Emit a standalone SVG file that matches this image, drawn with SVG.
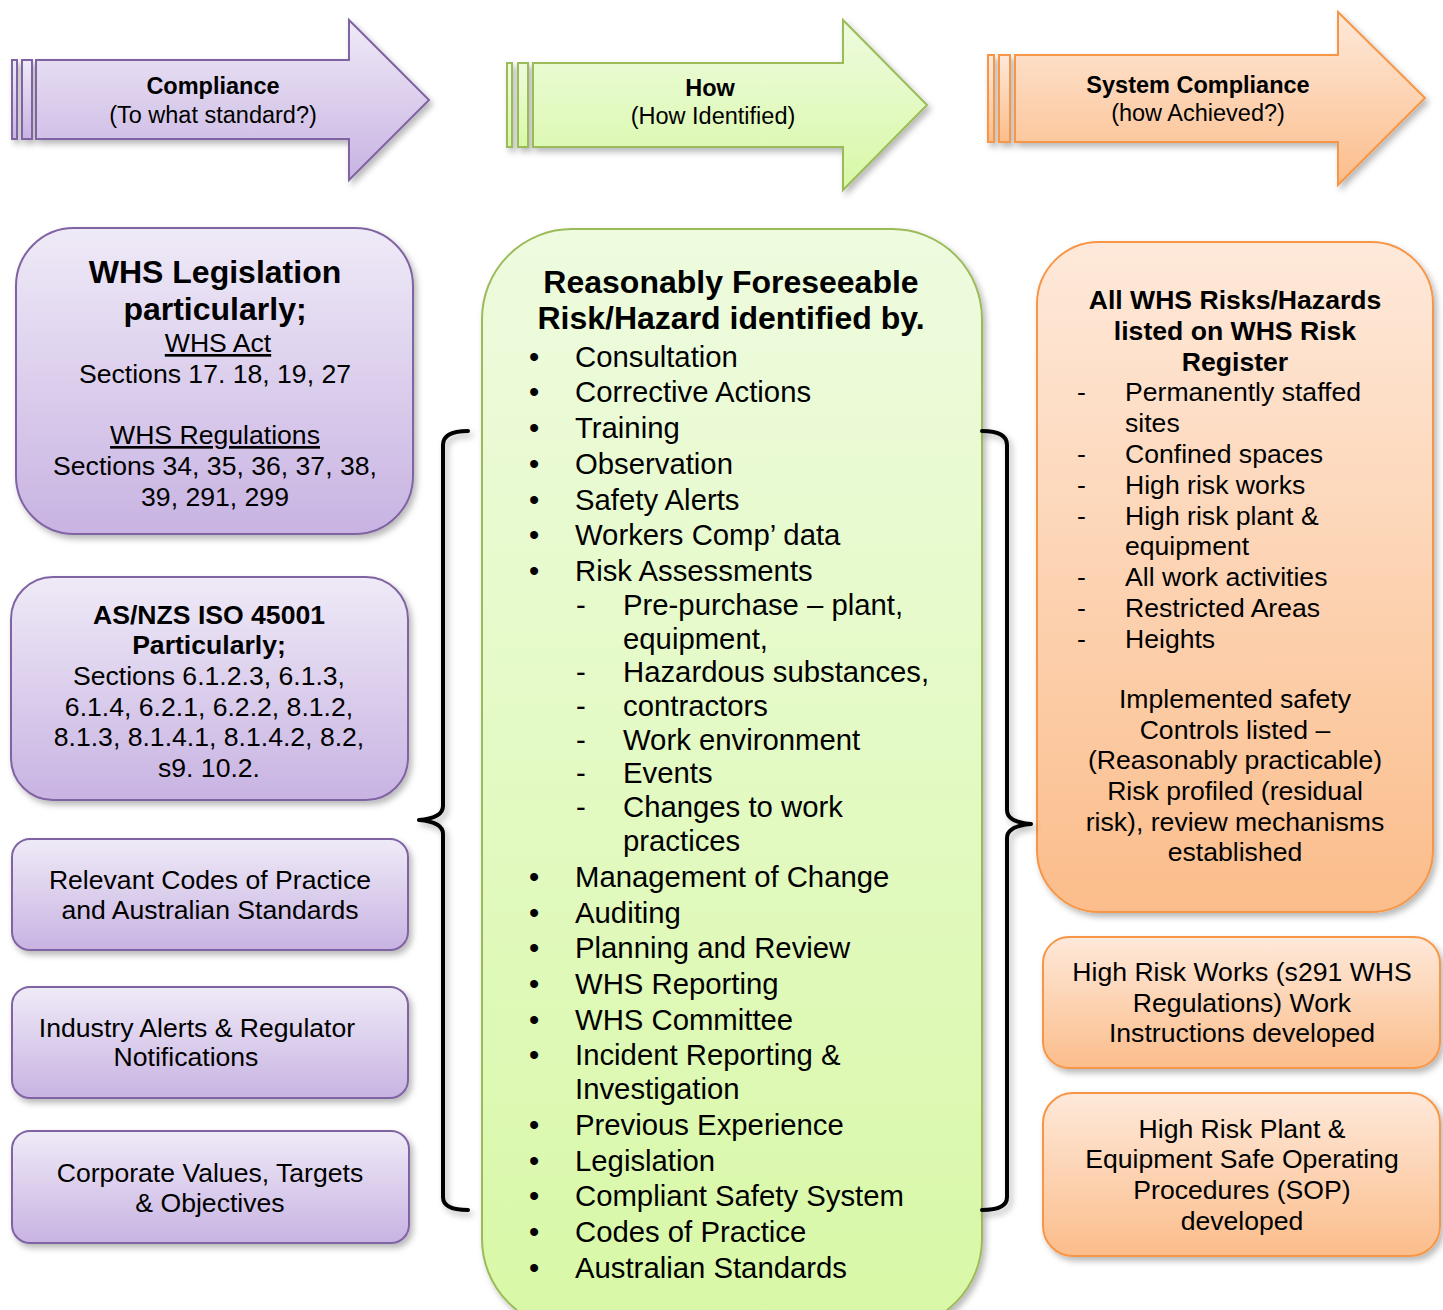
<svg xmlns="http://www.w3.org/2000/svg" width="1443" height="1310" viewBox="0 0 1443 1310">
<defs>
<linearGradient id="gP" x1="0" y1="0" x2="0" y2="1"><stop offset="0" stop-color="#efeaf7"/><stop offset="1" stop-color="#c8b3e2"/></linearGradient>
<linearGradient id="gG" x1="0" y1="0" x2="0" y2="1"><stop offset="0" stop-color="#eefbdf"/><stop offset="1" stop-color="#d8f8a6"/></linearGradient>
<linearGradient id="gO" x1="0" y1="0" x2="0" y2="1"><stop offset="0" stop-color="#fee9da"/><stop offset="1" stop-color="#fbbd8b"/></linearGradient>
<filter id="sh" x="-10%" y="-10%" width="125%" height="125%"><feDropShadow dx="3" dy="4" stdDeviation="3" flood-color="#000" flood-opacity="0.28"/></filter>
</defs>
<style>
.p{fill:url(#gP);stroke:#8064a2;stroke-width:2}
.g{fill:url(#gG);stroke:#9bbb59;stroke-width:2}
.o{fill:url(#gO);stroke:#f79646;stroke-width:2}
text{font-family:"Liberation Sans",Arial,sans-serif;fill:#000}
.c{text-anchor:middle}
.b{font-weight:bold}
.t20{font-size:23.5px}
.t25{font-size:26.6px}
.t29{font-size:29.3px}
.u{text-decoration:underline}
.br{fill:none;stroke:#000;stroke-width:4;stroke-linejoin:round;stroke-linecap:round}
</style>
<rect width="1443" height="1310" fill="#fff"/>

<g id="arrow-compliance" filter="url(#sh)">
<rect class="p" x="12" y="60" width="5" height="79"/>
<rect class="p" x="22" y="60" width="10" height="79"/>
<path class="p" d="M36,60 H349 V20 L429,100 L349,180 V139 H36 Z"/>
</g>
<g id="arrow-compliance-text">
<text class="c b t20" x="213" y="94">Compliance</text>
<text class="c t20" x="213" y="123">(To what standard?)</text>
</g>

<g id="arrow-how" filter="url(#sh)">
<rect class="g" x="507" y="63" width="5" height="84"/>
<rect class="g" x="518" y="63" width="10" height="84"/>
<path class="g" d="M533,63 H843 V20 L927,105 L843,190 V147 H533 Z"/>
</g>
<g id="arrow-how-text">
<text class="c b t20" x="710" y="96">How</text>
<text class="c t20" x="713" y="124">(How Identified)</text>
</g>

<g id="arrow-system" filter="url(#sh)">
<rect class="o" x="988" y="55" width="6" height="87"/>
<rect class="o" x="999" y="55" width="11" height="87"/>
<path class="o" d="M1015,55 H1338 V12 L1425,98 L1338,185 V142 H1015 Z"/>
</g>
<g id="arrow-system-text">
<text class="c b t20" x="1198" y="93">System Compliance</text>
<text class="c t20" x="1198" y="121">(how Achieved?)</text>
</g>

<g id="whs-legislation">
<rect class="p" x="16" y="228" width="397" height="306" rx="58" filter="url(#sh)"/>
<text class="c b" font-size="32" x="215" y="283">WHS Legislation</text>
<text class="c b" font-size="32" x="215" y="320">particularly;</text>
<text class="c t25 u" x="218" y="352">WHS Act</text>
<text class="c t25" x="215" y="383">Sections 17. 18, 19, 27</text>
<text class="c t25 u" x="215" y="444">WHS Regulations</text>
<text class="c t25" x="215" y="475">Sections 34, 35, 36, 37, 38,</text>
<text class="c t25" x="215" y="506">39, 291, 299</text>
</g>

<g id="asnzs-iso">
<rect class="p" x="11" y="577" width="397" height="223" rx="42" filter="url(#sh)"/>
<text class="c b t25" x="209" y="624">AS/NZS ISO 45001</text>
<text class="c b t25" x="209" y="654">Particularly;</text>
<text class="c t25" x="209" y="685">Sections 6.1.2.3, 6.1.3,</text>
<text class="c t25" x="209" y="716">6.1.4, 6.2.1, 6.2.2, 8.1.2,</text>
<text class="c t25" x="209" y="746">8.1.3, 8.1.4.1, 8.1.4.2, 8.2,</text>
<text class="c t25" x="209" y="777">s9. 10.2.</text>
</g>

<g id="codes-of-practice">
<rect class="p" x="12" y="839" width="396" height="111" rx="18" filter="url(#sh)"/>
<text class="c t25" x="210" y="889">Relevant Codes of Practice</text>
<text class="c t25" x="210" y="919">and Australian Standards</text>
</g>

<g id="industry-alerts">
<rect class="p" x="12" y="987" width="396" height="111" rx="18" filter="url(#sh)"/>
<text class="c t25" x="197" y="1037">Industry Alerts &amp; Regulator</text>
<text class="c t25" x="186" y="1066">Notifications</text>
</g>

<g id="corporate-values">
<rect class="p" x="12" y="1131" width="397" height="112" rx="18" filter="url(#sh)"/>
<text class="c t25" x="210" y="1182">Corporate Values, Targets</text>
<text class="c t25" x="210" y="1212">&amp; Objectives</text>
</g>

<g id="foreseeable-risk">
<rect class="g" x="482" y="229" width="500" height="1100" rx="90" filter="url(#sh)"/>
<text class="c b" font-size="32" x="731" y="293">Reasonably Foreseeable</text>
<text class="c b" font-size="32" x="731" y="329">Risk/Hazard identified by.</text>
<g class="t29">
<text x="529" y="367">•</text><text x="575" y="367">Consultation</text>
<text x="529" y="402">•</text><text x="575" y="402">Corrective Actions</text>
<text x="529" y="438">•</text><text x="575" y="438">Training</text>
<text x="529" y="474">•</text><text x="575" y="474">Observation</text>
<text x="529" y="510">•</text><text x="575" y="510">Safety Alerts</text>
<text x="529" y="545">•</text><text x="575" y="545">Workers Comp’ data</text>
<text x="529" y="581">•</text><text x="575" y="581">Risk Assessments</text>
<text x="576" y="615">-</text><text x="623" y="615">Pre-purchase – plant,</text>
<text x="623" y="649">equipment,</text>
<text x="576" y="682">-</text><text x="623" y="682">Hazardous substances,</text>
<text x="576" y="716">-</text><text x="623" y="716">contractors</text>
<text x="576" y="750">-</text><text x="623" y="750">Work environment</text>
<text x="576" y="783">-</text><text x="623" y="783">Events</text>
<text x="576" y="817">-</text><text x="623" y="817">Changes to work</text>
<text x="623" y="851">practices</text>
<text x="529" y="887">•</text><text x="575" y="887">Management of Change</text>
<text x="529" y="923">•</text><text x="575" y="923">Auditing</text>
<text x="529" y="958">•</text><text x="575" y="958">Planning and Review</text>
<text x="529" y="994">•</text><text x="575" y="994">WHS Reporting</text>
<text x="529" y="1030">•</text><text x="575" y="1030">WHS Committee</text>
<text x="529" y="1065">•</text><text x="575" y="1065">Incident Reporting &amp;</text>
<text x="575" y="1099">Investigation</text>
<text x="529" y="1135">•</text><text x="575" y="1135">Previous Experience</text>
<text x="529" y="1171">•</text><text x="575" y="1171">Legislation</text>
<text x="529" y="1206">•</text><text x="575" y="1206">Compliant Safety System</text>
<text x="529" y="1242">•</text><text x="575" y="1242">Codes of Practice</text>
<text x="529" y="1278">•</text><text x="575" y="1278">Australian Standards</text>
</g>
</g>

<g id="risk-register">
<rect class="o" x="1037" y="242" width="396" height="670" rx="62" filter="url(#sh)"/>
<text class="c b t25" x="1235" y="309">All WHS Risks/Hazards</text>
<text class="c b t25" x="1235" y="340">listed on WHS Risk</text>
<text class="c b t25" x="1235" y="371">Register</text>
<g class="t25">
<text x="1077" y="401">-</text><text x="1125" y="401">Permanently staffed</text>
<text x="1125" y="432">sites</text>
<text x="1077" y="463">-</text><text x="1125" y="463">Confined spaces</text>
<text x="1077" y="494">-</text><text x="1125" y="494">High risk works</text>
<text x="1077" y="525">-</text><text x="1125" y="525">High risk plant &amp;</text>
<text x="1125" y="555">equipment</text>
<text x="1077" y="586">-</text><text x="1125" y="586">All work activities</text>
<text x="1077" y="617">-</text><text x="1125" y="617">Restricted Areas</text>
<text x="1077" y="648">-</text><text x="1125" y="648">Heights</text>
</g>
<text class="c t25" x="1235" y="708">Implemented safety</text>
<text class="c t25" x="1235" y="739">Controls listed –</text>
<text class="c t25" x="1235" y="769">(Reasonably practicable)</text>
<text class="c t25" x="1235" y="800">Risk profiled (residual</text>
<text class="c t25" x="1235" y="831">risk), review mechanisms</text>
<text class="c t25" x="1235" y="861">established</text>
</g>

<g id="high-risk-works">
<rect class="o" x="1043" y="937" width="397" height="131" rx="26" filter="url(#sh)"/>
<text class="c t25" x="1242" y="981">High Risk Works (s291 WHS</text>
<text class="c t25" x="1242" y="1012">Regulations) Work</text>
<text class="c t25" x="1242" y="1042">Instructions developed</text>
</g>

<g id="high-risk-plant">
<rect class="o" x="1043" y="1093" width="397" height="163" rx="30" filter="url(#sh)"/>
<text class="c t25" x="1242" y="1138">High Risk Plant &amp;</text>
<text class="c t25" x="1242" y="1168">Equipment Safe Operating</text>
<text class="c t25" x="1242" y="1199">Procedures (SOP)</text>
<text class="c t25" x="1242" y="1230">developed</text>
</g>

<g id="connectors" filter="url(#sh)">
<path class="br" d="M468,431 Q443,431 443,445 L443,806 Q443,818 419,820 Q443,822 443,834 L443,1197 Q443,1210 468,1210"/>
<path class="br" d="M982,431 Q1007,431 1007,445 L1007,810 Q1007,822 1031,824 Q1007,826 1007,838 L1007,1197 Q1007,1210 982,1210"/>
</g>
</svg>
